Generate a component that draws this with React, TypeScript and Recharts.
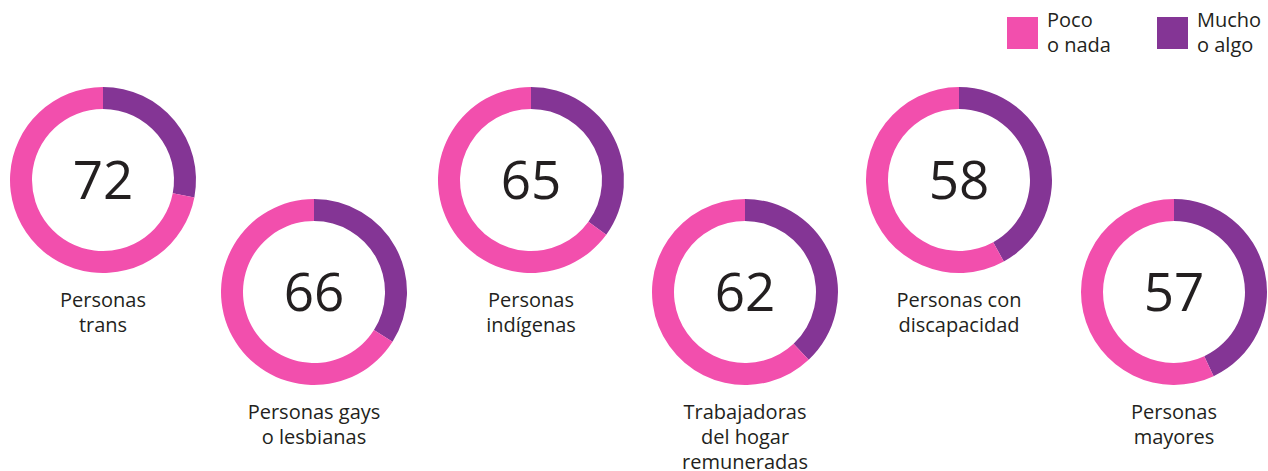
import React from "react";
import { PieChart, Pie, Cell, Label, Legend } from "recharts";

const categories = [
  ["Personas", "trans"],
  ["Personas gays", "o lesbianas"],
  ["Personas", "indígenas"],
  ["Trabajadoras", "del hogar", "remuneradas"],
  ["Personas con", "discapacidad"],
  ["Personas", "mayores"],
];
const pocoValues = [72, 66, 65, 62, 58, 57];
const muchoValues = [28, 34, 35, 38, 42, 43];
const seriesNames = ["Poco\no nada", "Mucho\no algo"];

const PINK = "#F24FAD";
const PURPLE = "#843595";
const FONT = "'Open Sans', 'Noto Sans', sans-serif";

const centersX = [103, 314, 531, 745, 959, 1174];
const centersY = [180, 292, 180, 292, 180, 292];
const INNER = 71;
const OUTER = 93;

const renderLegend = () => (
  <div style={{ display: "flex", fontFamily: FONT, fontSize: 20, color: "#231F20" }}>
    {seriesNames.map((n, i) => (
      <div key={n} style={{ display: "flex", width: i === 0 ? 150 : 111, flexShrink: 0 }}>
        <div
          style={{
            width: 31,
            height: 32,
            marginTop: 17,
            flexShrink: 0,
            background: i === 0 ? PINK : PURPLE,
          }}
        />
        <div style={{ marginLeft: 9, lineHeight: "25px", whiteSpace: "pre", marginTop: 7 }}>{n}</div>
      </div>
    ))}
  </div>
);

export default function App() {
  return (
    <div
      style={{
        position: "fixed",
        top: 0,
        left: 0,
        width: 1268,
        height: 471,
        overflow: "hidden",
        background: "#fff",
      }}
    >
      <PieChart width={1268} height={471} margin={{ top: 0, right: 0, bottom: 0, left: 0 }}>
        {pocoValues.map((v, i) => {
          const data = [
            { name: "Mucho o algo", value: muchoValues[i] },
            { name: "Poco o nada", value: v },
          ];
          const cx = centersX[i];
          const cy = centersY[i];
          return (
            <Pie
              key={i}
              data={data}
              dataKey="value"
              cx={cx}
              cy={cy}
              innerRadius={INNER}
              outerRadius={OUTER}
              startAngle={90}
              endAngle={-270}
              stroke="none"
              isAnimationActive={false}
            >
              <Cell fill={PURPLE} />
              <Cell fill={PINK} />
              <Label
                position="center"
                content={() => (
                  <g fontFamily={FONT} fill="#231F20">
                    <text x={cx} y={cy + 19} textAnchor="middle" fontSize={53}>
                      {v}
                    </text>
                    {categories[i].map((line, j) => (
                      <text
                        key={j}
                        x={cx}
                        y={cy + OUTER + 34 + j * 25}
                        textAnchor="middle"
                        fontSize={20}
                      >
                        {line}
                      </text>
                    ))}
                  </g>
                )}
              />
            </Pie>
          );
        })}
        <Legend
          content={renderLegend}
          wrapperStyle={{ position: "absolute", top: 0, left: 1007, width: 261 }}
        />
      </PieChart>
    </div>
  );
}
